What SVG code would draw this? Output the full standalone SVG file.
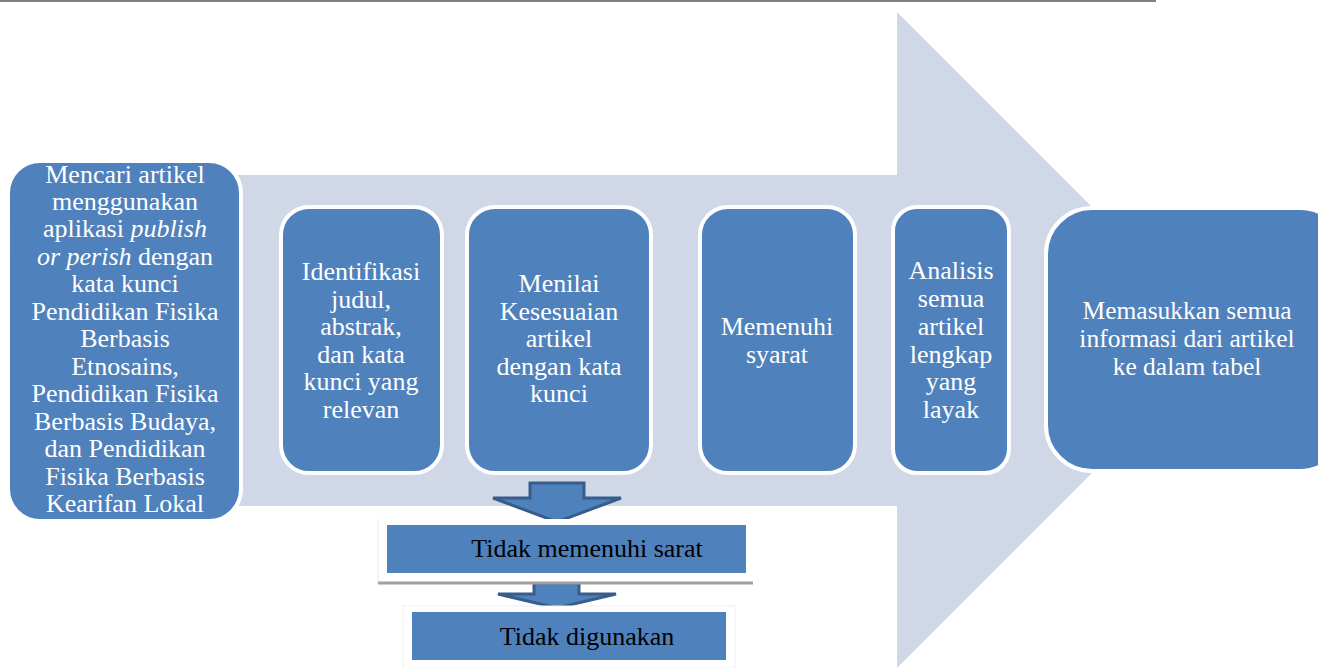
<svg xmlns="http://www.w3.org/2000/svg" width="1318" height="668" viewBox="0 0 1318 668">
<style>
.box{fill:#4F81BD;stroke:#FFFFFF;stroke-width:4}
.wt{font-family:'Liberation Serif','Times New Roman',serif;font-size:26px;fill:#FFFFFF;text-anchor:middle}
.bt{font-family:'Liberation Serif','Times New Roman',serif;font-size:26px;fill:#000000;text-anchor:middle}
.rect{fill:#4F81BD}
.down{fill:#4F81BD;stroke:#385D8A;stroke-width:3;stroke-linejoin:miter}
</style>
<rect width="1318" height="668" fill="#FFFFFF"/>
<line x1="0" y1="1" x2="1156" y2="1" stroke="#808080" stroke-width="2"/>
<g id="big-arrow">
<path d="M230,175 L897,175 L897,12 L1225,340 L897,668 L897,506 L230,506 Z" fill="#D0D8E8"/>
</g>
<g id="n-mencari">
<rect class="box" x="8" y="161" width="233" height="360" rx="32"/>
<text class="wt" x="125"><tspan x="125" y="183">Mencari artikel</tspan><tspan x="125" y="210">menggunakan</tspan><tspan x="125" y="237">aplikasi <tspan font-style="italic">publish</tspan></tspan><tspan x="125" y="265"><tspan font-style="italic">or perish</tspan> dengan</tspan><tspan x="125" y="292">kata kunci</tspan><tspan x="125" y="320">Pendidikan Fisika</tspan><tspan x="125" y="347">Berbasis</tspan><tspan x="125" y="375">Etnosains,</tspan><tspan x="125" y="402">Pendidikan Fisika</tspan><tspan x="125" y="430">Berbasis Budaya,</tspan><tspan x="125" y="457">dan Pendidikan</tspan><tspan x="125" y="485">Fisika Berbasis</tspan><tspan x="125" y="512">Kearifan Lokal</tspan></text>
</g>
<g id="n-identifikasi">
<rect class="box" x="281" y="207" width="161" height="266" rx="28"/>
<text class="wt"><tspan x="361" y="280">Identifikasi</tspan><tspan x="361" y="308">judul,</tspan><tspan x="361" y="335">abstrak,</tspan><tspan x="361" y="363">dan kata</tspan><tspan x="361" y="390">kunci yang</tspan><tspan x="361" y="418">relevan</tspan></text>
</g>
<g id="n-menilai">
<rect class="box" x="467" y="207" width="184" height="266" rx="28"/>
<text class="wt"><tspan x="559" y="292">Menilai</tspan><tspan x="559" y="320">Kesesuaian</tspan><tspan x="559" y="347">artikel</tspan><tspan x="559" y="375">dengan kata</tspan><tspan x="559" y="402">kunci</tspan></text>
</g>
<g id="n-memenuhi">
<rect class="box" x="700" y="207" width="155" height="266" rx="28"/>
<text class="wt"><tspan x="777" y="335">Memenuhi</tspan><tspan x="777" y="363">syarat</tspan></text>
</g>
<g id="n-analisis">
<rect class="box" x="893" y="207" width="116" height="266" rx="24"/>
<text class="wt"><tspan x="951" y="279">Analisis</tspan><tspan x="951" y="307">semua</tspan><tspan x="951" y="335">artikel</tspan><tspan x="951" y="363">lengkap</tspan><tspan x="951" y="390">yang</tspan><tspan x="951" y="418">layak</tspan></text>
</g>
<g id="n-memasukkan">
<rect class="box" x="1046" y="208" width="300" height="263" rx="46"/>
<text class="wt" style="font-size:25.5px"><tspan x="1187" y="319">Memasukkan semua</tspan><tspan x="1187" y="347">informasi dari artikel</tspan><tspan x="1187" y="375">ke dalam tabel</tspan></text>
</g>
<g id="connectors">
<path class="down" d="M530,483 L584,483 L584,498 L621,498 L557,522 L493,498 L530,498 Z"/>
<path class="down" d="M534,583 L579,583 L579,594 L616,594 L557,608 L498,594 L534,594 Z"/>
</g>
<g id="n-tidak-memenuhi">
<rect x="378" y="519" width="375" height="63" fill="#FFFFFF"/>
<line x1="378" y1="519" x2="378" y2="582" stroke="#E8E8E8" stroke-width="1"/>
<line x1="378" y1="583" x2="753" y2="583" stroke="#A0A0A0" stroke-width="3"/>
<rect class="rect" x="387" y="525" width="359" height="48"/>
<text class="bt" x="587" y="557">Tidak memenuhi sarat</text>
</g>
<g id="n-tidak-digunakan">
<rect x="403" y="606" width="332" height="62" fill="#FFFFFF" stroke="#F0F0F0" stroke-width="1"/>
<rect class="rect" x="412" y="612" width="314" height="48"/>
<text class="bt" x="587" y="645">Tidak digunakan</text>
</g>
</svg>
